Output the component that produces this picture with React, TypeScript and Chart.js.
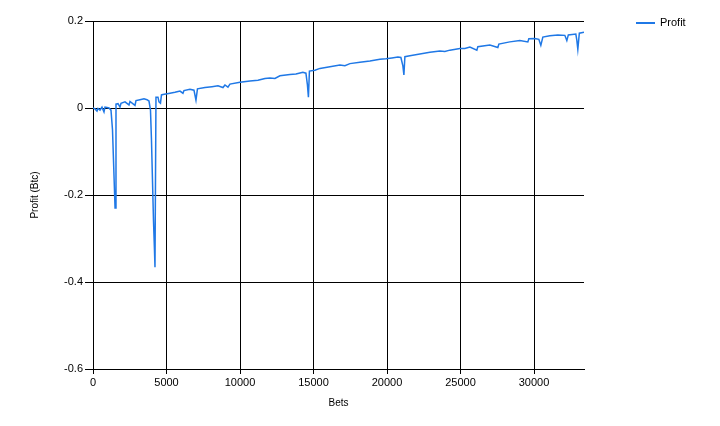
import { useEffect, useRef } from "react"
import { Chart, registerables } from "chart.js"

Chart.register(...registerables)

// bet number of each sample
const bets = [
  0, 136, 272, 340, 476, 612, 748, 816, 952, 1088, 1224, 1326, 1394, 1462, 1500,
  1564, 1700, 1836, 1904, 2176, 2448, 2516, 2856, 2924, 3196, 3468, 3672, 3808,
  3910, 3978, 4046, 4114, 4182, 4216, 4284, 4420, 4488, 4590, 4658, 4760, 5236,
  5576, 5916, 6120, 6188, 6596, 6868, 7004, 7106, 7616, 8092, 8500, 8840, 8976,
  9180, 9316, 9996, 10676, 11220, 11696, 12036, 12376, 12716, 13396, 13804, 14280,
  14484, 14586, 14654, 14722, 15096, 15436, 16116, 16796, 17136, 17476, 18156,
  18836, 19516, 19924, 20332, 20740, 20944, 21080, 21148, 21216, 21556, 22236,
  22916, 23596, 23936, 24276, 24956, 25296, 25636, 26112, 26180, 26996, 27540,
  27608, 28356, 29036, 29580, 29648, 30056, 30328, 30464, 30600, 31076, 31620,
  32096, 32232, 32334, 32844, 32912, 32980, 33082, 33400,
]

// cumulative profit (Btc) at each sample
const profit = [
  0, -0.002, -0.007, -0.001, -0.005, 0.002, -0.009, 0.002, 0.001, 0.0, -0.005,
  -0.05, -0.12, -0.19, -0.23, 0.009, 0.01, 0.002, 0.011, 0.014, 0.007, 0.015,
  0.006, 0.017, 0.019, 0.021, 0.019, 0.016, -0.005, -0.074, -0.166, -0.258,
  -0.327, -0.366, 0.025, 0.025, 0.014, 0.011, 0.03, 0.031, 0.034, 0.036, 0.039,
  0.034, 0.04, 0.043, 0.041, 0.018, 0.044, 0.047, 0.049, 0.051, 0.047, 0.053,
  0.048, 0.055, 0.059, 0.062, 0.064, 0.068, 0.069, 0.068, 0.074, 0.077, 0.078,
  0.082, 0.08, 0.053, 0.025, 0.085, 0.087, 0.091, 0.095, 0.099, 0.097, 0.102,
  0.105, 0.108, 0.112, 0.113, 0.115, 0.117, 0.116, 0.097, 0.076, 0.118, 0.12,
  0.124, 0.128, 0.131, 0.13, 0.133, 0.137, 0.137, 0.14, 0.133, 0.141, 0.145,
  0.139, 0.147, 0.152, 0.155, 0.152, 0.159, 0.16, 0.158, 0.144, 0.163, 0.166,
  0.168, 0.167, 0.155, 0.168, 0.17, 0.156, 0.135, 0.172, 0.174,
]

// axis tick values
const xTicks = [0, 5000, 10000, 15000, 20000, 25000, 30000]
const yTicks = [-0.6, -0.4, -0.2, 0, 0.2]

const seriesName = "Profit"
const lineColor = "#1f78e6"
const fontFamily = "'Liberation Sans', Arial, sans-serif"

// legend drawn at the right, outside the plot area
const sideLegend = {
  id: "sideLegend",
  afterDraw(chart: Chart) {
    const ctx = chart.ctx
    ctx.save()
    ctx.strokeStyle = lineColor
    ctx.lineWidth = 2
    ctx.beginPath()
    ctx.moveTo(636, 23)
    ctx.lineTo(655, 23)
    ctx.stroke()
    ctx.fillStyle = "#000"
    ctx.font = "11px " + fontFamily
    ctx.textBaseline = "middle"
    ctx.fillText(seriesName, 660, 23)
    ctx.restore()
  },
}

export default function App() {
  const canvasRef = useRef<HTMLCanvasElement>(null)
  const chartRef = useRef<Chart | null>(null)

  useEffect(() => {
    if (!canvasRef.current) return
    if (chartRef.current) chartRef.current.destroy()

    const points = bets.map((b, i) => ({ x: b, y: profit[i] }))

    chartRef.current = new Chart(canvasRef.current, {
      type: "line",
      data: {
        datasets: [
          {
            label: seriesName,
            data: points,
            borderColor: lineColor,
            borderWidth: 1.5,
            pointRadius: 0,
            tension: 0,
            fill: false,
          },
        ],
      },
      options: {
        animation: false,
        responsive: true,
        maintainAspectRatio: false,
        layout: { padding: { top: 21, right: 136, left: 0, bottom: 0 } },
        plugins: {
          legend: { display: false },
          tooltip: { enabled: false },
        },
        scales: {
          x: {
            type: "linear",
            min: 0,
            max: 33400,
            afterBuildTicks(scale) {
              scale.ticks = xTicks.map((v) => ({ value: v }))
            },
            afterFit(scale) {
              scale.height = 57
            },
            ticks: {
              autoSkip: false,
              padding: 2,
              color: "#000",
              font: { family: fontFamily, size: 11 },
              maxRotation: 0,
              callback: (v) => String(v),
            },
            grid: { color: "#000", lineWidth: 1, tickLength: 5 },
            border: { color: "#000" },
            title: {
              display: true,
              text: "Bets",
              color: "#000",
              font: { family: fontFamily, size: 10 },
              padding: { top: 0, bottom: 17 },
            },
          },
          y: {
            min: -0.6,
            max: 0.2,
            afterBuildTicks(scale) {
              scale.ticks = yTicks.map((v) => ({ value: v }))
            },
            afterFit(scale) {
              scale.width = 93
            },
            ticks: {
              autoSkip: false,
              padding: 2,
              color: "#000",
              font: { family: fontFamily, size: 11 },
              callback: (v) => {
                const n = Number(v)
                return Math.abs(n) < 1e-9 ? "0" : n.toFixed(1)
              },
            },
            grid: { color: "#000", lineWidth: 1, tickLength: 8 },
            border: { color: "#000" },
            title: {
              display: true,
              text: "Profit (Btc)",
              color: "#000",
              font: { family: fontFamily, size: 10 },
              padding: { top: 29, bottom: 0 },
            },
          },
        },
      },
      plugins: [sideLegend],
    })

    return () => {
      if (chartRef.current) {
        chartRef.current.destroy()
        chartRef.current = null
      }
    }
  }, [])

  return (
    <div style={{ position: "absolute", left: 0, top: 0, width: 720, height: 426, background: "#fff" }}>
      <canvas ref={canvasRef}></canvas>
    </div>
  )
}
